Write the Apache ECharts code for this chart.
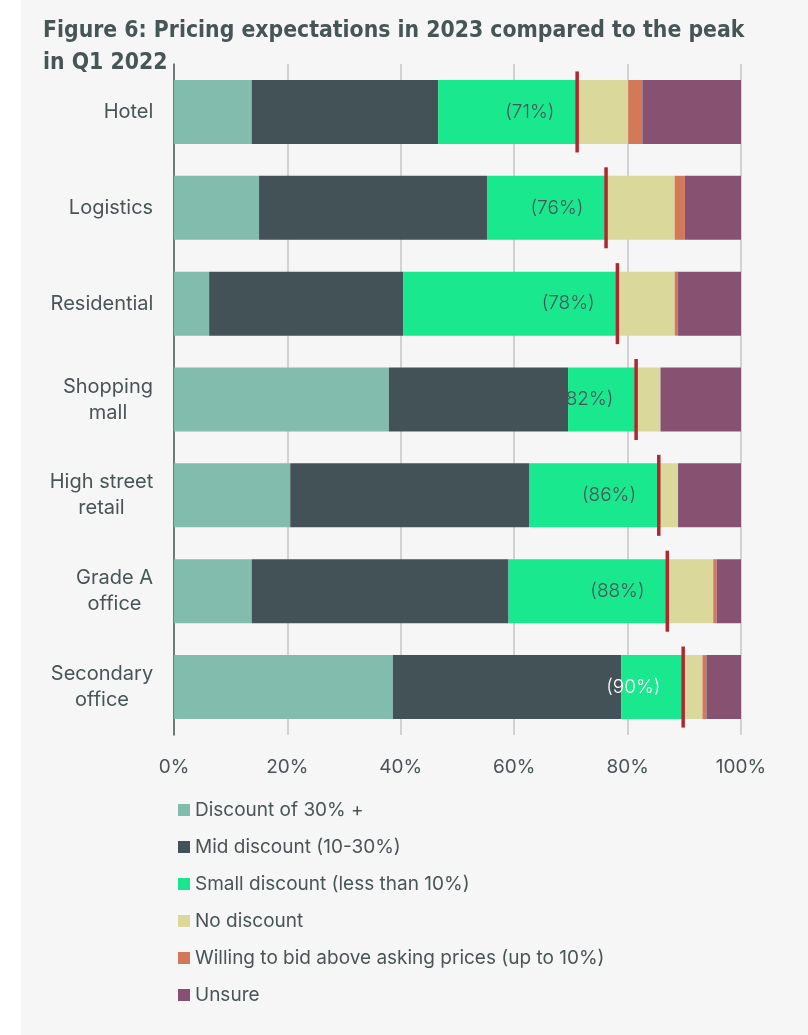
<!DOCTYPE html>
<html>
<head>
<meta charset="utf-8">
<script src="https://cdn.jsdelivr.net/npm/echarts@6/dist/echarts.min.js"></script>
<style>
  html, body { margin: 0; padding: 0; background: #ffffff; }
  #bg { position: absolute; left: 21px; top: 0; width: 787px; height: 1035px; background: #f6f6f6; }
  #chart { position: absolute; left: 0; top: 0; width: 808px; height: 1035px; }
</style>
</head>
<body>
<div id="bg"></div>
<div id="chart"></div>
<script>
const categories = ['Hotel', 'Logistics', 'Residential', 'Shopping\nmall', 'High street\nretail', 'Grade A\noffice', 'Secondary\noffice'];
const seriesNames = ['Discount of 30% +', 'Mid discount (10-30%)', 'Small discount (less than 10%)', 'No discount', 'Willing to bid above asking prices (up to 10%)', 'Unsure'];
const discount30 = [13.7, 15.0, 6.2, 37.9, 20.5, 13.7, 38.6];
const midDiscount = [32.9, 40.2, 34.2, 31.6, 42.2, 45.3, 40.3];
const smallDiscount = [24.5, 20.8, 37.6, 12.0, 22.5, 28.0, 10.7];
const noDiscount = [9.0, 12.3, 10.3, 4.3, 3.7, 8.1, 3.6];
const bidAbove = [2.5, 1.8, 0.6, 0, 0, 0.6, 0.7];
const unsure = [17.4, 9.9, 11.1, 14.2, 11.1, 4.3, 6.1];
const peakValues = [71.1, 76.2, 78.2, 81.5, 85.5, 87.0, 89.8];
const peakLabels = ['(71%)', '(76%)', '(78%)', '82%)', '(86%)', '(88%)', '(90%)'];
const xTicks = [0, 20, 40, 60, 80, 100];

const colors = ['#82bcac', '#435256', '#19e88f', '#dbd89b', '#d3795a', '#875272'];
const txt = '#485557';
const font = 'Inter';
const titleLine1 = 'Figure 6: Pricing expectations in 2023 compared to the peak';
const titleLine2 = 'in Q1 2022';

const ctx = document.createElement('canvas').getContext('2d');

// choose a condensed bold font for the title if one is installed
function hasFont(f) {
  const probe = 'Figure 6: Pricing expectations WMil';
  ctx.font = 'bold 26px monospace';
  const a = ctx.measureText(probe).width;
  ctx.font = 'bold 26px serif';
  const b = ctx.measureText(probe).width;
  ctx.font = 'bold 26px "' + f + '", monospace';
  const c = ctx.measureText(probe).width;
  ctx.font = 'bold 26px "' + f + '", serif';
  const d = ctx.measureText(probe).width;
  return c !== a && d !== b;
}
const titleCandidates = ['DejaVu Sans Condensed', 'Roboto Condensed', 'Liberation Sans Narrow', 'Arial Narrow', 'Roboto'];
let titleFont = 'Roboto';
for (const f of titleCandidates) { if (hasFont(f)) { titleFont = f; break; } }
ctx.font = 'bold 26px "' + titleFont + '"';
let titleSize = 26 * 700 / ctx.measureText(titleLine1).width;
titleSize = Math.min(27, Math.round(titleSize * 4) / 4);

ctx.font = '400 20px Inter';
const rich = {};
categories.forEach((c, i) => {
  const w = Math.max(...c.split('\n').map(s => ctx.measureText(s).width));
  rich['c' + i] = { width: Math.ceil(w) + 1, align: 'center', fontSize: 20, lineHeight: 26, fontFamily: font, color: txt };
});

const seriesData = [discount30, midDiscount, smallDiscount, noDiscount, bidAbove, unsure];
const barSeries = seriesData.map((d, k) => ({
  name: seriesNames[k],
  type: 'bar',
  stack: 'total',
  barWidth: 64,
  itemStyle: { color: colors[k] },
  emphasis: { disabled: true },
  data: d
}));

const chart = echarts.init(document.getElementById('chart'));
chart.setOption({
  animation: false,
  title: {
    text: titleLine1 + '\n' + titleLine2,
    left: 38,
    top: 10,
    textStyle: { fontFamily: titleFont, fontWeight: 'bold', fontSize: titleSize, lineHeight: 32, color: txt }
  },
  legend: {
    data: seriesNames,
    orient: 'vertical',
    left: 173,
    top: 795,
    itemWidth: 12,
    itemHeight: 12,
    itemGap: 17,
    icon: 'rect',
    textStyle: { fontFamily: font, fontSize: 19, lineHeight: 20, color: txt },
    selectedMode: false
  },
  grid: { left: 174, right: 67, top: 64, bottom: 300 },
  xAxis: {
    type: 'value',
    min: 0,
    max: 100,
    interval: 20,
    axisLine: { show: false },
    axisTick: { show: false },
    axisLabel: {
      margin: 23,
      fontFamily: font,
      fontSize: 19,
      color: txt,
      formatter: v => xTicks.includes(v) ? v + '%' : ''
    },
    splitLine: { show: true, lineStyle: { color: '#c6c6c6', width: 1.5 } }
  },
  yAxis: {
    type: 'category',
    inverse: true,
    data: categories,
    axisLine: { show: true, lineStyle: { color: '#4f5b5d', width: 1.5 } },
    axisTick: { show: false },
    axisLabel: {
      margin: 20,
      formatter: (v, i) => v.split('\n').map(s => '{c' + i + '|' + s + '}').join('\n'),
      rich: rich
    }
  },
  series: barSeries.concat([{
    name: 'Peak',
    type: 'scatter',
    symbol: 'rect',
    symbolSize: [3.5, 81],
    z: 10,
    itemStyle: { color: '#b0282d', opacity: 1 },
    emphasis: { disabled: true },
    label: {
      show: true,
      position: 'left',
      distance: 21,
      fontFamily: font,
      fontWeight: 300,
      fontSize: 19,
      color: txt,
      formatter: p => peakLabels[p.dataIndex]
    },
    data: peakValues.map((v, i) => (i === 6
      ? { value: [v, i], label: { color: '#ffffff' } }
      : { value: [v, i] }))
  }])
});
</script>
</body>
</html>
